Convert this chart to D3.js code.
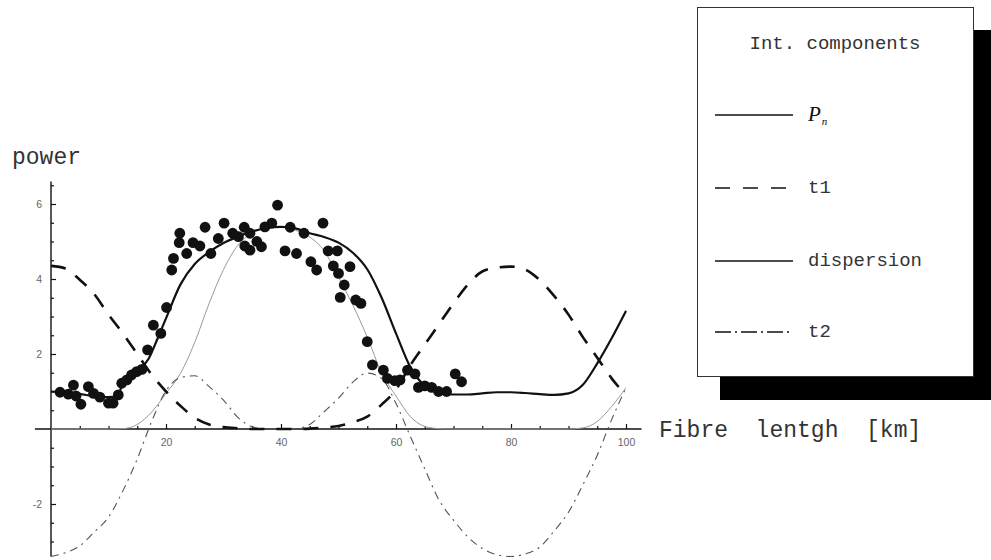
<!DOCTYPE html>
<html>
<head>
<meta charset="utf-8">
<script src="https://cdn.jsdelivr.net/npm/d3@7"></script>
<style>
  html, body { margin: 0; padding: 0; background: #fff; }
  svg { display: block; }
  .mono { font-family: "Liberation Mono", "Courier New", monospace; white-space: pre; }
</style>
</head>
<body>
<svg id="chart" width="991" height="560"></svg>
<script>
// Distance grid (km) for the model components
const km = [0, 2.5, 5, 7.5, 10, 12.5, 15, 17.5, 20, 22.5, 25, 27.5, 30, 32.5, 35, 37.5, 40,
            42.5, 45, 47.5, 50, 52.5, 55, 57.5, 60, 62.5, 65, 67.5, 70, 72.5, 75, 77.5, 80,
            82.5, 85, 87.5, 90, 92.5, 95, 97.5, 100];

// Interference term t1 (dashed)
const t1 = [4.35, 4.28, 3.98, 3.6, 3.05, 2.55, 2.0, 1.45, 1.0, 0.62, 0.3, 0.12, 0.05, 0.02, 0.0, 0.0, 0.0,
            0.0, 0.01, 0.04, 0.08, 0.18, 0.33, 0.65, 1.05, 1.7, 2.25, 2.8, 3.35, 3.85, 4.2, 4.3, 4.33,
            4.25, 3.97, 3.55, 3.05, 2.45, 1.9, 1.35, 0.9];

// Dispersion term (thin grey)
const dispersion = [0, 0, 0, 0, 0, 0.01, 0.12, 0.45, 0.95, 1.48, 2.31, 3.35, 4.25, 4.9, 5.22, 5.36, 5.39,
                    5.3, 5.12, 4.75, 4.05, 3.3, 2.45, 1.5, 0.88, 0.33, 0.07, 0.01, 0, 0, 0, 0, 0,
                    0, 0, 0, 0, 0.03, 0.2, 0.6, 1.1];

// Interference term t2 (dash-dot)
const t2 = [-3.4, -3.3, -3.12, -2.75, -2.35, -1.65, -0.8, 0.2, 1.02, 1.37, 1.42, 1.13, 0.77, 0.31, 0.06, 0.0, 0.0,
            0.01, 0.12, 0.46, 0.82, 1.25, 1.49, 1.35, 0.68, -0.2, -1.06, -1.9, -2.43, -2.88, -3.18, -3.35, -3.4,
            -3.33, -3.15, -2.72, -2.22, -1.49, -0.7, 0.25, 1.1];

// Total power P_n (solid)
const pnKm = [0, 2.5, 5, 7.5, 10, 11.5, 12.5, 14, 15.5, 17, 18.5, 20, 22.5, 25, 27.5, 30, 32.5, 35, 37.5, 40,
              42.5, 45, 47.5, 50, 52.5, 55, 57.5, 60, 62.5, 65, 67.5, 70, 72.5, 75, 77.5, 80,
              82.5, 85, 87.5, 90, 92.5, 95, 97.5, 100];
const pn = [1.0, 0.97, 0.93, 0.88, 0.85, 0.87, 1.22, 1.43, 1.6, 1.88, 2.4, 2.95, 3.85, 4.4, 4.72, 4.96, 5.13, 5.27, 5.36, 5.39,
            5.35, 5.22, 5.12, 4.97, 4.7, 4.26, 3.5, 2.55, 1.65, 1.15, 0.97, 0.92, 0.92, 0.95, 0.98, 0.98,
            0.96, 0.93, 0.91, 0.95, 1.18, 1.75, 2.42, 3.15];

// Measured power along the fibre
const measKm = [1.57, 3.0, 3.9, 4.35, 5.2, 6.5, 7.4, 8.5, 10.0, 10.8, 11.7, 12.3, 13.2, 14.0, 14.9, 15.8,
                16.8, 17.8, 19.1, 20.1, 21.0, 21.3, 22.4, 22.3, 23.6, 24.7, 25.9, 26.8, 27.8, 29.1,
                30.1, 31.6, 32.6, 33.6, 33.7, 34.6, 34.6, 35.8, 36.6, 37.2, 38.4, 39.4, 40.7, 41.6,
                42.7, 44.0, 47.3, 45.2, 46.2, 48.2, 49.8, 49.1, 50.0, 52.0, 51.0, 50.3, 53.0, 53.9,
                55.0, 55.9, 57.8, 58.5, 59.8, 60.7, 62.0, 63.3, 63.9, 65.0, 66.2, 67.4, 68.8, 70.3, 71.4];
const measPower = [0.98, 0.93, 1.17, 0.88, 0.66, 1.13, 0.95, 0.85, 0.69, 0.69, 0.91, 1.22, 1.31, 1.44, 1.53, 1.59,
                   2.11, 2.77, 2.55, 3.24, 4.24, 4.55, 5.22, 4.97, 4.68, 4.97, 4.88, 5.38, 4.68, 5.08,
                   5.49, 5.22, 5.13, 5.38, 4.88, 5.22, 4.77, 5.0, 4.86, 5.39, 5.49, 5.97, 4.75, 5.38,
                   4.68, 5.22, 5.49, 4.46, 4.24, 4.75, 4.75, 4.35, 4.15, 4.33, 3.84, 3.51, 3.44, 3.35,
                   2.33, 1.71, 1.57, 1.35, 1.29, 1.31, 1.57, 1.47, 1.11, 1.15, 1.11, 1.0, 1.0, 1.47, 1.26];

// Axis ticks and extents
const xTicks = [20, 40, 60, 80, 100];
const xMinorTicks = [5, 10, 15, 25, 30, 35, 45, 50, 55, 65, 70, 75, 85, 90, 95];
const yTicks = [-2, 2, 4, 6];
const yMinorTicks = [-3, -2.5, -1.5, -1, -0.5, 0.5, 1, 1.5, 2.5, 3, 3.5, 4.5, 5, 5.5, 6.5];
const xExtent = [-2.8, 102.7];
const yExtent = [-3.4, 6.6];

const xLabel = "Fibre  lentgh  [km]";
const yLabel = "power";
const legendTitle = "Int. components";
const legendItems = ["P", "t1", "dispersion", "t2"];

const svg = d3.select("#chart");
svg.append("rect").attr("width", 991).attr("height", 560).attr("fill", "#fff");

const x = d3.scaleLinear().domain([0, 100]).range([51, 626]);
const y = d3.scaleLinear().domain([0, 6]).range([429, 204]);

const plot = svg.append("g");

// Axes lines
plot.append("line")
  .attr("x1", x(xExtent[0])).attr("x2", x(xExtent[1]))
  .attr("y1", y(0)).attr("y2", y(0))
  .attr("stroke", "#111").attr("stroke-width", 1.4);
plot.append("line")
  .attr("x1", x(0)).attr("x2", x(0))
  .attr("y1", y(yExtent[0])).attr("y2", y(yExtent[1]))
  .attr("stroke", "#111").attr("stroke-width", 1.4);

function styleAxis(g) {
  g.select(".domain").remove();
  g.selectAll(".tick line").attr("stroke", "#111").attr("stroke-width", 1.2);
  g.selectAll(".tick text")
    .attr("fill", "#666")
    .style("font-family", "'Liberation Sans', Arial, sans-serif")
    .style("font-size", "10.5px");
}
const plain = d => String(d);

// x axis: ticks point into the plot, labels below
plot.append("g").attr("transform", `translate(0,${y(0)})`)
  .call(d3.axisBottom(x).tickValues(xTicks).tickFormat(plain).tickSizeInner(-5).tickSizeOuter(0).tickPadding(10))
  .call(styleAxis);
plot.append("g").attr("transform", `translate(0,${y(0)})`)
  .call(d3.axisBottom(x).tickValues(xMinorTicks).tickSizeInner(-3).tickSizeOuter(0).tickFormat(""))
  .call(styleAxis);

// y axis
plot.append("g").attr("transform", `translate(${x(0)},0)`)
  .call(d3.axisLeft(y).tickValues(yTicks).tickFormat(plain).tickSizeInner(-5).tickSizeOuter(0).tickPadding(9))
  .call(styleAxis);
plot.append("g").attr("transform", `translate(${x(0)},0)`)
  .call(d3.axisLeft(y).tickValues(yMinorTicks).tickSizeInner(-3).tickSizeOuter(0).tickFormat(""))
  .call(styleAxis);

// Curves
const line = d3.line().x(d => x(d[0])).y(d => y(d[1])).curve(d3.curveMonotoneX);
const series = [
  { xs: km, ys: dispersion, stroke: "#9a9a9a", width: 1.0, dash: null },
  { xs: km, ys: t2, stroke: "#555", width: 1.1, dash: "8,5,2,5" },
  { xs: km, ys: t1, stroke: "#111", width: 2.6, dash: "15,12" },
  { xs: pnKm, ys: pn, stroke: "#111", width: 2.2, dash: null }
];
series.forEach(s => {
  plot.append("path")
    .datum(s.xs.map((v, i) => [v, s.ys[i]]))
    .attr("d", line)
    .attr("fill", "none")
    .attr("stroke", s.stroke)
    .attr("stroke-width", s.width)
    .attr("stroke-dasharray", s.dash);
});

// Measured points
plot.append("g").selectAll("circle")
  .data(measKm.map((v, i) => [v, measPower[i]]))
  .join("circle")
  .attr("cx", d => x(d[0])).attr("cy", d => y(d[1]))
  .attr("r", 5.4).attr("fill", "#111");

// Axis labels
svg.append("text").attr("class", "mono")
  .attr("x", 12).attr("y", 164)
  .attr("font-size", 23).attr("fill", "#333")
  .text(yLabel);
svg.append("text").attr("class", "mono")
  .attr("x", 659).attr("y", 437)
  .attr("font-size", 23).attr("fill", "#333")
  .text(xLabel);

// Legend box with drop shadow
const lg = svg.append("g");
lg.append("rect").attr("x", 720).attr("y", 30).attr("width", 277).attr("height", 370).attr("fill", "#000");
lg.append("rect").attr("x", 697.5).attr("y", 7.5).attr("width", 276).attr("height", 369)
  .attr("fill", "#fff").attr("stroke", "#333").attr("stroke-width", 1);
lg.append("text").attr("class", "mono")
  .attr("x", 835).attr("y", 49).attr("text-anchor", "middle")
  .attr("font-size", 19).attr("fill", "#333")
  .text(legendTitle);

const legendStyles = [
  { width: 1.6, dash: null },
  { width: 1.6, dash: "15,13" },
  { width: 1.6, dash: null },
  { width: 1.4, dash: "16,4,2,4" }
];
const rowY = [115, 188, 261, 332];
legendItems.forEach((name, i) => {
  lg.append("line")
    .attr("x1", 715).attr("x2", 793)
    .attr("y1", rowY[i]).attr("y2", rowY[i])
    .attr("stroke", "#111").attr("stroke-width", legendStyles[i].width)
    .attr("stroke-dasharray", legendStyles[i].dash);
  if (i === 0) {
    const t = lg.append("text").attr("x", 808).attr("y", rowY[i] + 6)
      .style("font-family", "'Liberation Serif', 'Times New Roman', serif")
      .style("font-style", "italic").attr("fill", "#111");
    t.append("tspan").attr("font-size", 21).text(name);
    t.append("tspan").attr("font-size", 11).attr("dy", 4).attr("dx", 1).text("n");
  } else {
    lg.append("text").attr("class", "mono")
      .attr("x", 808).attr("y", rowY[i] + 5)
      .attr("font-size", 19).attr("fill", "#333")
      .text(name);
  }
});
</script>
</body>
</html>
